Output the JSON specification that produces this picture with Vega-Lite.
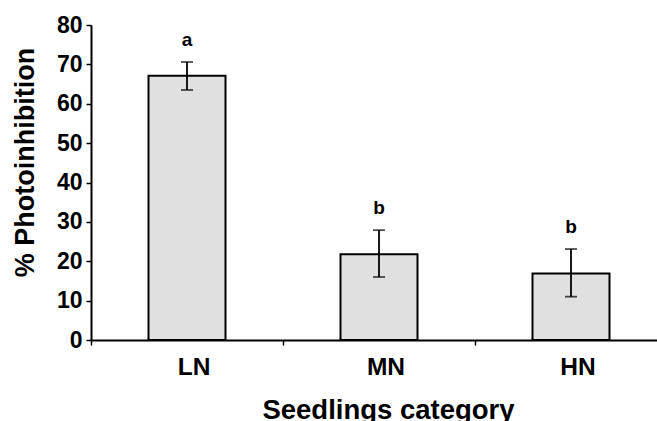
{
  "$schema": "https://vega.github.io/schema/vega-lite/v6.json",
  "autosize": {"type": "none"},
  "width": 566,
  "height": 315,
  "padding": {"left": 91, "top": 25, "right": 0, "bottom": 81},
  "background": "white",
  "config": {
    "view": {"stroke": null},
    "font": "Liberation Sans",
    "axis": {"grid": false, "domainColor": "black", "tickColor": "black", "labelColor": "black", "titleColor": "black", "labelFont": "Liberation Sans", "titleFont": "Liberation Sans", "labelFontWeight": "bold", "titleFontWeight": "bold", "labelOverlap": false}
  },
  "data": {
    "values": [
      {"category": "LN", "mean": 67.1, "lower": 63.5, "upper": 70.6, "letter": "a"},
      {"category": "MN", "mean": 21.8, "lower": 16.0, "upper": 27.9, "letter": "b"},
      {"category": "HN", "mean": 16.9, "lower": 11.0, "upper": 23.1, "letter": "b"}
    ]
  },
  "resolve": {"axis": {"y": "independent"}, "scale": {"y": "shared"}},
  "encoding": {
    "x": {
      "field": "category",
      "type": "nominal",
      "sort": ["LN", "MN", "HN"],
      "scale": {"range": [0, 576], "paddingInner": 0, "paddingOuter": 0},
      "axis": {
        "title": "Seedlings category",
        "titleFontSize": 27.5,
        "titleX": 297,
        "titleY": 78,
        "titleBaseline": "alphabetic",
        "labelFontSize": 24.5,
        "labelAngle": 0,
        "labelPadding": 10,
        "bandPosition": 0,
        "labelOffset": 7,
        "labelAlign": "center",
        "tickSize": 5,
        "tickWidth": 1.5,
        "domainWidth": 2
      }
    }
  },
  "layer": [
    {
      "mark": {"type": "bar", "size": 77, "fill": "#e0e0e0", "stroke": "black", "strokeWidth": 2},
      "encoding": {
        "y": {
          "field": "mean",
          "type": "quantitative",
          "scale": {"domain": [0, 80], "nice": false},
          "axis": {
            "title": "% Photoinhibition",
            "titleFontSize": 27,
            "titleX": -58,
            "titleY": 137,
            "titleBaseline": "alphabetic",
            "titleAngle": -90,
            "labelFontSize": 23,
            "labelPadding": 4,
            "values": [0, 10, 20, 30, 40, 50, 60, 70, 80],
            "tickSize": 5,
            "tickWidth": 1.5,
            "domainWidth": 2
          }
        }
      }
    },
    {
      "mark": {"type": "rule", "color": "black", "strokeWidth": 1.8},
      "encoding": {
        "y": {"field": "lower", "type": "quantitative", "axis": null},
        "y2": {"field": "upper"}
      }
    },
    {
      "mark": {"type": "tick", "color": "black", "size": 12, "thickness": 1.8},
      "encoding": {"y": {"field": "upper", "type": "quantitative", "axis": null}}
    },
    {
      "mark": {"type": "tick", "color": "black", "size": 12, "thickness": 1.8},
      "encoding": {"y": {"field": "lower", "type": "quantitative", "axis": null}}
    },
    {
      "mark": {"type": "text", "fontSize": 19, "fontWeight": "bold", "color": "black", "baseline": "alphabetic", "dy": -16, "font": "Liberation Sans"},
      "encoding": {
        "y": {"field": "upper", "type": "quantitative", "axis": null},
        "text": {"field": "letter"}
      }
    }
  ]
}
